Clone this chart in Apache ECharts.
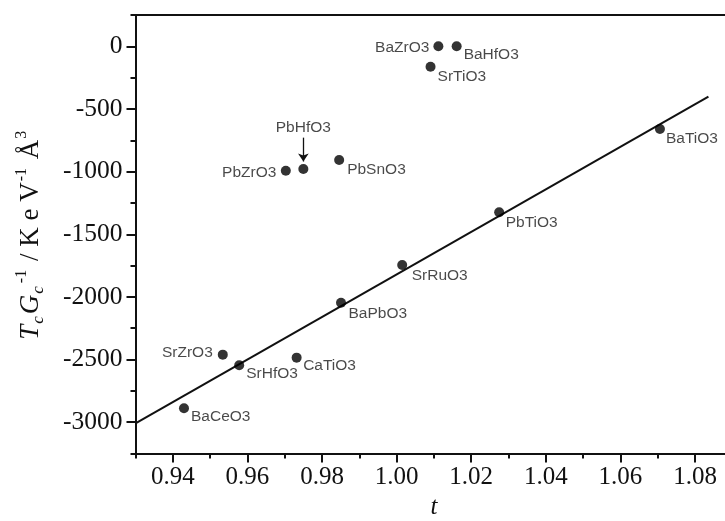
<!DOCTYPE html>
<html>
<head>
<meta charset="utf-8">
<script src="https://cdn.jsdelivr.net/npm/echarts@6/dist/echarts.min.js"></script>
<style>
  html, body { margin: 0; padding: 0; background: #fff; }
  #chart { width: 725px; height: 521px; }
</style>
</head>
<body>
<div id="chart"></div>
<script>
// Perovskite compounds: tolerance factor t vs Tc/Gc
const compounds = ['BaCeO3', 'SrZrO3', 'SrHfO3', 'CaTiO3', 'BaPbO3', 'SrRuO3', 'PbTiO3', 'BaTiO3',
                   'BaZrO3', 'BaHfO3', 'SrTiO3', 'PbZrO3', 'PbHfO3', 'PbSnO3'];
const tValues = [0.9430, 0.9534, 0.9578, 0.9732, 0.9851, 1.0015, 1.0275, 1.0706,
                 1.0112, 1.0161, 1.0091, 0.9703, 0.9750, 0.9846];
const tcGcValues = [-2889, -2461, -2546, -2485, -2047, -1746, -1325, -660,
                    0, 0, -163, -993, -979, -907];

// Linear fit drawn across the plot
const fitT = [0.93, 1.0836];
const fitValues = [-3009, -402];

// Tick positions
const xMajorTicks = [0.94, 0.96, 0.98, 1.00, 1.02, 1.04, 1.06, 1.08];
const xMinorTicks = [0.93, 0.95, 0.97, 0.99, 1.01, 1.03, 1.05, 1.07, 1.09];
const yMajorTicks = [0, -500, -1000, -1500, -2000, -2500, -3000];
const yMinorTicks = [250, -250, -750, -1250, -1750, -2250, -2750, -3250];

// Where each compound's label sits relative to its marker
const labelPlacement = {
  BaCeO3: { position: 'right', offset: [2, 8.5] },
  SrZrO3: { position: 'left', offset: [-5, -2] },
  SrHfO3: { position: 'right', offset: [2, 8.5] },
  CaTiO3: { position: 'right', offset: [1.5, 8] },
  BaPbO3: { position: 'right', offset: [2.5, 10.5] },
  SrRuO3: { position: 'right', offset: [4.5, 11] },
  PbTiO3: { position: 'right', offset: [1.5, 10.5] },
  BaTiO3: { position: 'right', offset: [1, 10] },
  BaZrO3: { position: 'left', offset: [-4, 1] },
  BaHfO3: { position: 'right', offset: [2, 8.5] },
  SrTiO3: { position: 'right', offset: [2, 9.5] },
  PbZrO3: { position: 'left', offset: [-4.5, 1.5] },
  PbHfO3: { position: 'top', offset: [0, 0], distance: 28 },
  PbSnO3: { position: 'right', offset: [3, 9.5] }
};
const arrowTarget = 'PbHfO3';

const serif = 'Liberation Serif, Times New Roman, serif';
const sans = 'Liberation Sans, Arial, sans-serif';
const ink = '#111';

const points = compounds.map((name, i) => {
  const p = labelPlacement[name];
  return {
    name: name,
    value: [tValues[i], tcGcValues[i]],
    label: {
      show: true,
      formatter: '{b}',
      fontFamily: sans, fontSize: 15.5, color: '#1a1a1a',
      position: p.position,
      offset: p.offset,
      distance: p.distance !== undefined ? p.distance : 0
    }
  };
});

const ai = compounds.indexOf(arrowTarget);
const arrowT = tValues[ai];
const arrowV = tcGcValues[ai];

const chart = echarts.init(document.getElementById('chart'), null, { renderer: 'canvas' });

const axisLineStyle = { color: ink, width: 2 };

chart.setOption({
  animation: false,
  backgroundColor: '#fff',
  grid: {
    left: 135.5, top: 15, right: -7.3, bottom: 67.5,
    containLabel: false, outerBoundsMode: 'none'
  },
  xAxis: [
    {
      type: 'value', position: 'bottom', min: 0.93, max: 1.09,
      axisLine: { show: true, onZero: false, lineStyle: axisLineStyle },
      axisTick: { show: true, customValues: xMajorTicks, length: 9, lineStyle: { color: ink, width: 2 } },
      axisLabel: {
        show: true, customValues: xMajorTicks, margin: 11,
        formatter: v => v.toFixed(2),
        fontFamily: serif, fontSize: 25, color: ink
      },
      splitLine: { show: false },
      name: 't', nameLocation: 'middle', nameGap: 41,
      nameTextStyle: { fontFamily: serif, fontStyle: 'italic', fontSize: 25, color: ink }
    },
    {
      type: 'value', position: 'bottom', min: 0.93, max: 1.09,
      axisLine: { show: false, onZero: false },
      axisTick: { show: true, customValues: xMinorTicks, length: 5, lineStyle: { color: ink, width: 2 } },
      axisLabel: { show: false },
      splitLine: { show: false }
    },
    {
      type: 'value', position: 'top', min: 0.93, max: 1.09,
      axisLine: { show: true, onZero: false, lineStyle: axisLineStyle },
      axisTick: { show: false },
      axisLabel: { show: false },
      splitLine: { show: false }
    }
  ],
  yAxis: [
    {
      type: 'value', position: 'left', min: -3250, max: 250,
      axisLine: { show: true, onZero: false, lineStyle: axisLineStyle },
      axisTick: { show: true, customValues: yMajorTicks, length: 9, lineStyle: { color: ink, width: 2 } },
      axisLabel: {
        show: true, customValues: yMajorTicks, margin: 13,
        formatter: v => String(Math.round(v)),
        fontFamily: serif, fontSize: 25.5, color: ink
      },
      splitLine: { show: false },
      name: '{it|T}{sub|c}{it|G}{sub|c}{sup|-1}{rm| / K e V}{sup|-1}{rm| Å}{sup|3}',
      nameLocation: 'middle', nameRotate: 90, nameGap: 88,
      nameTextStyle: {
        fontFamily: serif, fontSize: 26, color: ink,
        rich: {
          it: { fontFamily: serif, fontStyle: 'italic', fontSize: 27, color: ink, lineHeight: 34, verticalAlign: 'middle' },
          rm: { fontFamily: serif, fontSize: 27, color: ink, lineHeight: 34, verticalAlign: 'middle' },
          sub: { fontFamily: serif, fontStyle: 'italic', fontSize: 17, color: ink, lineHeight: 34, verticalAlign: 'bottom', padding: [0, 2, 0, 1] },
          sup: { fontFamily: serif, fontSize: 16, color: ink, lineHeight: 34, verticalAlign: 'top', padding: [0, 2, 0, 1] }
        }
      }
    },
    {
      type: 'value', position: 'left', min: -3250, max: 250,
      axisLine: { show: false, onZero: false },
      axisTick: { show: true, customValues: yMinorTicks, length: 5, lineStyle: { color: ink, width: 2 } },
      axisLabel: { show: false },
      splitLine: { show: false }
    }
  ],
  series: [
    {
      name: 'fit',
      type: 'line',
      xAxisIndex: 0, yAxisIndex: 0,
      data: fitT.map((t, i) => [t, fitValues[i]]),
      symbol: 'none',
      lineStyle: { color: ink, width: 2 },
      silent: true,
      z: 2
    },
    {
      name: 'compounds',
      type: 'scatter',
      xAxisIndex: 0, yAxisIndex: 0,
      data: points,
      symbol: 'circle',
      symbolSize: 10,
      itemStyle: { color: '#000' },
      markLine: {
        silent: true,
        symbol: ['none', 'arrow'],
        symbolSize: 8,
        label: { show: false },
        lineStyle: { color: ink, width: 1.3, type: 'solid' },
        data: [[{ coord: [arrowT, arrowV + 250] }, { coord: [arrowT, arrowV + 60] }]]
      },
      z: 3
    }
  ]
});
</script>
</body>
</html>
